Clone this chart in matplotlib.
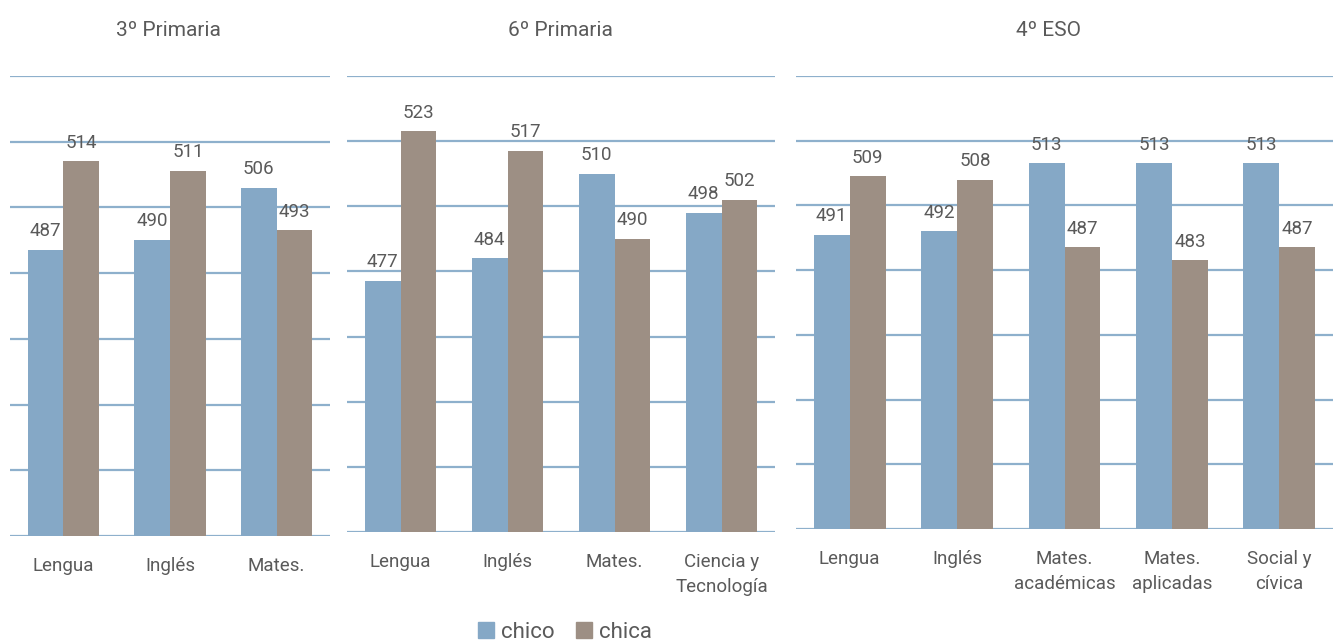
import matplotlib
matplotlib.use("Agg")
import matplotlib.pyplot as plt
from matplotlib.patches import Patch

plt.rcParams['font.family'] = ['Roboto', 'DejaVu Sans']

# ---- data ----
titles = ["3º Primaria", "6º Primaria", "4º ESO"]
cats_3p = ["Lengua", "Inglés", "Mates."]
chico_3p = [487, 490, 506]
chica_3p = [514, 511, 493]

cats_6p = ["Lengua", "Inglés", "Mates.", "Ciencia y\nTecnología"]
chico_6p = [477, 484, 510, 498]
chica_6p = [523, 517, 490, 502]

cats_4e = ["Lengua", "Inglés", "Mates.\nacadémicas", "Mates.\naplicadas", "Social y\ncívica"]
chico_4e = [491, 492, 513, 513, 513]
chica_4e = [509, 508, 487, 483, 487]

series_names = ["chico", "chica"]
yticks = [400, 420, 440, 460, 480, 500, 520, 540]

# ---- style ----
c_chico = "#85a8c6"
c_chica = "#9d8f84"
c_grid = "#8eb0cc"
c_text = "#5a5a5a"

W, H = 1335, 644
fig = plt.figure(figsize=(W / 100, H / 100), dpi=100)

# axes boxes in pixels: left, right, baseline_y, top_y
boxes = [(10, 330, 536, 76), (347, 775, 532, 76), (796, 1333, 529, 76)]
title_x = [168, 560, 1048]
panels = [(cats_3p, chico_3p, chica_3p), (cats_6p, chico_6p, chica_6p), (cats_4e, chico_4e, chica_4e)]

bw = 0.335
for (l, r, b, t), (cats, ch, ca), ttl, tx in zip(boxes, panels, titles, title_x):
    ax = fig.add_axes([l / W, (H - b) / H, (r - l) / W, (b - t) / H])
    n = len(cats)
    xs = list(range(n))
    ax.set_xlim(-0.5, n - 0.5)
    ax.set_ylim(400, 540)
    for yv in yticks:
        ax.axhline(yv, color=c_grid, lw=1.6, zorder=0)
    ax.bar([x - bw / 2 for x in xs], [v - 400 for v in ch], width=bw, bottom=400,
           color=c_chico, zorder=2)
    ax.bar([x + bw / 2 for x in xs], [v - 400 for v in ca], width=bw, bottom=400,
           color=c_chica, zorder=2)
    for x, v in zip(xs, ch):
        ax.text(x - bw / 2, v + 3, str(v), ha="center", va="bottom", fontsize=13.5,
                color=c_text, zorder=3)
    for x, v in zip(xs, ca):
        ax.text(x + bw / 2, v + 3, str(v), ha="center", va="bottom", fontsize=13.5,
                color=c_text, zorder=3)
    ax.set_xticks(xs)
    ax.set_xticklabels(cats, fontsize=13.5, color=c_text, linespacing=1.5)
    ax.tick_params(axis="x", length=0, pad=15)
    ax.set_yticks([])
    for s in ax.spines.values():
        s.set_visible(False)
    ax.patch.set_alpha(0)
    fig.text(tx / W, 1 - 30 / H, ttl, ha="center", va="center", fontsize=15, color=c_text)

handles = [Patch(color=c_chico), Patch(color=c_chica)]
fig.legend(handles, series_names, loc="center", bbox_to_anchor=(565 / W, 1 - 632 / H),
           ncol=2, frameon=False, fontsize=16, handlelength=0.7, handleheight=0.7,
           handletextpad=0.3, columnspacing=1.0, labelcolor=c_text)

fig.savefig("out.png", dpi=100, facecolor="white")
